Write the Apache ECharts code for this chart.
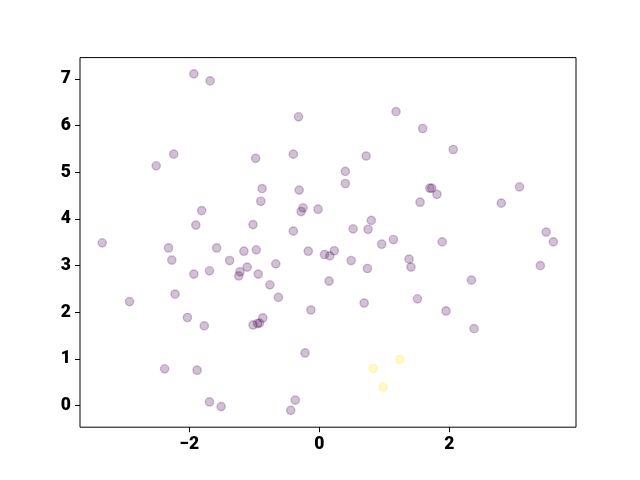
<!DOCTYPE html>
<html><head><meta charset="utf-8">
<script src="https://cdn.jsdelivr.net/npm/echarts@6/dist/echarts.min.js"></script>
<style>html,body{margin:0;padding:0;background:#fff}#c{width:640px;height:480px}</style>
</head><body><div id="c"></div>
<script>
const purpleX = [-1.93,-1.68,-2.24,-2.51,-1.81,-1.90,-1.02,-3.34,-2.32,-1.58,-1.16,-2.27,-1.38,-1.69,-1.93,-1.22,-1.24,-1.11,-2.22,-2.92,-2.03,-1.77,-2.38,-1.88,-1.69,-1.51,
  -0.32,1.18,-0.98,-0.40,0.72,0.40,0.40,-0.88,-0.31,-0.90,-0.25,-0.28,-0.02,-0.40,0.52,0.75,0.80,0.96,1.14,-0.97,-0.17,0.08,0.16,0.23,0.49,0.74,1.38,1.41,
  -0.67,-0.94,-0.76,-0.63,0.15,-0.13,0.69,-0.87,-1.02,-0.95,-0.92,-0.22,-0.37,-0.44,
  1.59,2.06,1.70,1.73,1.81,1.55,2.80,3.08,1.89,3.49,3.60,3.40,2.34,1.51,1.95,2.38];
const purpleY = [7.11,6.96,5.39,5.14,4.18,3.87,3.88,3.49,3.38,3.38,3.31,3.12,3.11,2.89,2.82,2.87,2.78,2.97,2.39,2.23,1.89,1.71,0.79,0.76,0.08,-0.02,
  6.19,6.30,5.30,5.39,5.35,5.02,4.76,4.65,4.62,4.38,4.24,4.16,4.21,3.74,3.79,3.78,3.97,3.46,3.56,3.34,3.31,3.24,3.21,3.32,3.11,2.94,3.14,2.97,
  3.04,2.82,2.59,2.32,2.67,2.05,2.20,1.88,1.73,1.76,1.77,1.13,0.12,-0.10,
  5.94,5.49,4.66,4.66,4.53,4.36,4.34,4.69,3.51,3.72,3.51,3.00,2.69,2.29,2.03,1.65];
const yellowX = [0.83,1.24,0.98];
const yellowY = [0.80,0.99,0.40];
const xTicks = [-2,0,2];
const yTicks = [0,1,2,3,4,5,6,7];

const pairs = (xs, ys) => xs.map((x,i)=>[x, ys[i]]);
const fmt = v => String(v).replace('-', '\u2212');
const labelStyle = {fontFamily:'Roboto', fontWeight:900, fontSize:17.5, color:'#000'};
const chart = echarts.init(document.getElementById('c'), null, {renderer:'canvas'});
chart.setOption({
  animation:false,
  grid:{left:80, right:64, top:57.6, bottom:52.8, show:true, borderColor:'#000', borderWidth:1, backgroundColor:'transparent'},
  xAxis:{type:'value', min:-3.682, max:3.949,
    axisLine:{show:false, onZero:false}, splitLine:{show:false},
    axisTick:{show:true, inside:false, length:5, lineStyle:{color:'#000'}, customValues:xTicks},
    axisLabel:Object.assign({margin:8, customValues:xTicks, formatter:fmt}, labelStyle)},
  yAxis:{type:'value', min:-0.461, max:7.459,
    axisLine:{show:false, onZero:false}, splitLine:{show:false},
    axisTick:{show:true, inside:false, length:5, lineStyle:{color:'#000'}, customValues:yTicks},
    axisLabel:Object.assign({margin:9, customValues:yTicks, formatter:fmt}, labelStyle)},
  series:[
    {type:'scatter', data:pairs(purpleX, purpleY), symbolSize:8.3,
      itemStyle:{color:'rgba(68,1,84,0.3)', borderColor:'rgba(68,1,84,0.3)', borderWidth:1.4}},
    {type:'scatter', data:pairs(yellowX, yellowY), symbolSize:8.3,
      itemStyle:{color:'rgba(253,231,37,0.3)', borderColor:'rgba(253,231,37,0.3)', borderWidth:1.4}}
  ]
});
</script></body></html>
